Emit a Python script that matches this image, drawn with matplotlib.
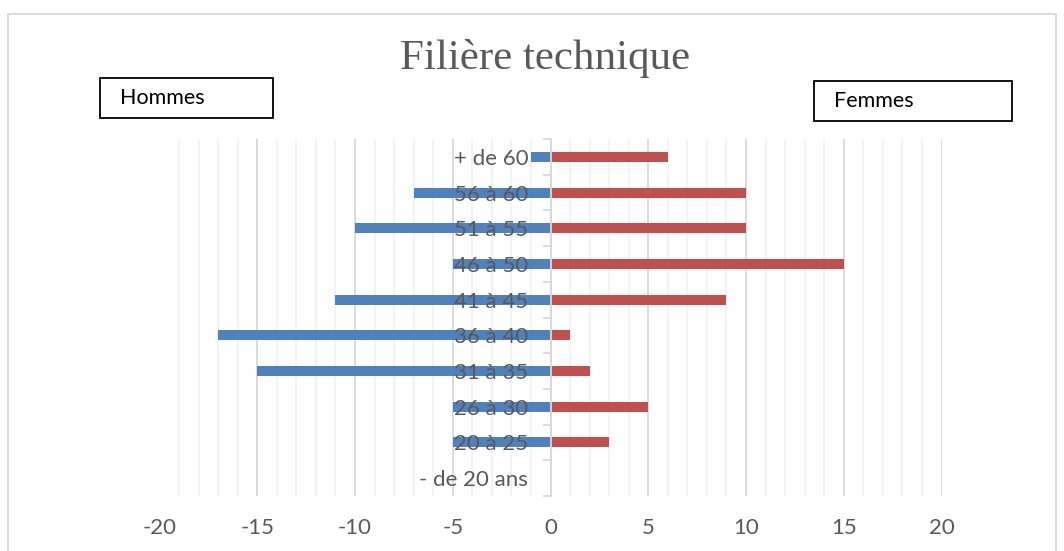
import matplotlib
matplotlib.use("Agg")
import matplotlib.pyplot as plt
from matplotlib.patches import Rectangle
from matplotlib.ticker import MultipleLocator, FixedLocator

# data (bottom to top)
categories = ["- de 20 ans", "20 à 25", "26 à 30", "31 à 35", "36 à 40",
              "41 à 45", "46 à 50", "51 à 55", "56 à 60", "+ de 60"]
hommes = [0, 5, 5, 15, 17, 11, 5, 10, 7, 1]
femmes = [0, 3, 5, 2, 1, 9, 15, 10, 10, 6]
xticks = [-20, -15, -10, -5, 0, 5, 10, 15, 20]

plt.rcParams['font.family'] = ['Lato', 'DejaVu Sans']
plt.rcParams['axes.unicode_minus'] = False
grey = '#595959'

fig = plt.figure(figsize=(10.64, 5.51), dpi=100)
ax = fig.add_axes([159.5 / 1064, 1 - 496 / 551, 782 / 1064, 357 / 551])

pos = list(range(len(categories)))
ax.barh(pos, [-h for h in hommes], height=0.28, color='#4f81bd', zorder=2)
ax.barh(pos, femmes, height=0.28, color='#c0504d', zorder=2)

ax.set_xlim(-20, 20)
ax.set_ylim(-0.5, len(categories) - 0.5)

# grid
ax.set_axisbelow(True)
ax.xaxis.set_major_locator(FixedLocator(xticks))
ax.xaxis.set_minor_locator(MultipleLocator(1))
ax.grid(axis='x', which='major', color='#d9d9d9', linewidth=1.3)
ax.grid(axis='x', which='minor', color='#f2f2f2', linewidth=1.3)
ax.tick_params(axis='x', which='both', length=0, pad=16, labelsize=16,
               labelcolor=grey)

# vertical axis at zero
for s in ['top', 'right', 'bottom']:
    ax.spines[s].set_visible(False)
ax.spines['left'].set_position(('data', 0))
ax.spines['left'].set_color('#d9d9d9')
ax.spines['left'].set_linewidth(1.3)
ax.set_yticks(pos)
ax.set_yticklabels(categories)
ax.yaxis.set_minor_locator(FixedLocator([p - 0.5 for p in range(len(categories) + 1)]))
ax.tick_params(axis='y', which='major', length=0, pad=16, labelsize=16,
               labelcolor=grey)
ax.tick_params(axis='y', which='minor', length=6, width=1.3, color='#d9d9d9')
ax.yaxis.set_zorder(3)

# title
fig.text(545 / 1064, 1 - 58 / 551, "Filière technique", ha='center',
         va='center', fontsize=31, color=grey, family='Liberation Serif')

# labels in boxes
fig.patches.append(Rectangle((100 / 1064, 1 - 118 / 551), 173 / 1064, 40 / 551,
                             transform=fig.transFigure, fill=False,
                             edgecolor='black', linewidth=1.3))
fig.text(120 / 1064, 1 - 98 / 551, "Hommes", ha='left', va='center',
         fontsize=15.5, color='black')
fig.patches.append(Rectangle((814 / 1064, 1 - 121 / 551), 198 / 1064, 40 / 551,
                             transform=fig.transFigure, fill=False,
                             edgecolor='black', linewidth=1.3))
fig.text(834 / 1064, 1 - 101 / 551, "Femmes", ha='left', va='center',
         fontsize=15.5, color='black')

# chart border
fig.patches.append(Rectangle((8 / 1064, -0.05), 1048 / 1064, 1.05 - 14 / 551,
                             transform=fig.transFigure, fill=False,
                             edgecolor='#d9d9d9', linewidth=1.3))

fig.savefig("out.png", dpi=100)
